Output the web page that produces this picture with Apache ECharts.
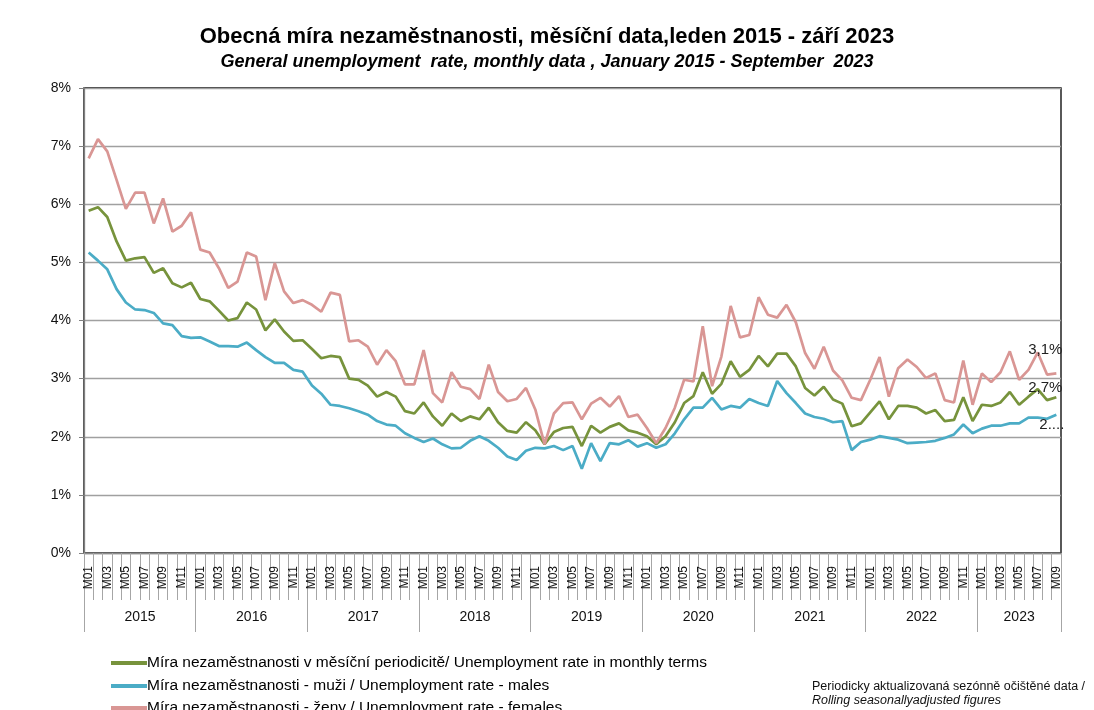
<!DOCTYPE html>
<html>
<head>
<meta charset="utf-8">
<script src="https://cdn.jsdelivr.net/npm/echarts@6/dist/echarts.min.js"></script>
<style>
  html, body { margin: 0; padding: 0; background: #fff; }
  #main { width: 1094px; height: 710px; }
</style>
</head>
<body>
<div id="main"></div>
<script>
// roky a měsíce na ose x
var years = ['2015', '2016', '2017', '2018', '2019', '2020', '2021', '2022', '2023'];
var months = ['M01', 'M02', 'M03', 'M04', 'M05', 'M06', 'M07', 'M08', 'M09', 'M10', 'M11', 'M12'];
var monthsIn2023 = 9;

// obecná míra nezaměstnanosti (%), leden 2015 - září 2023
var total = [
  5.89, 5.95, 5.78, 5.36, 5.03, 5.07, 5.09, 4.82, 4.90, 4.64, 4.57, 4.65,
  4.37, 4.33, 4.17, 4.00, 4.04, 4.31, 4.19, 3.83, 4.02, 3.81, 3.65, 3.66,
  3.51, 3.35, 3.39, 3.37, 3.00, 2.98, 2.88, 2.69, 2.77, 2.69, 2.44, 2.40,
  2.59, 2.35, 2.19, 2.40, 2.27, 2.35, 2.30, 2.50, 2.25, 2.10, 2.07, 2.25,
  2.11, 1.87, 2.08, 2.15, 2.17, 1.84, 2.19, 2.07, 2.17, 2.23, 2.11, 2.07,
  2.01, 1.87, 2.01, 2.25, 2.58, 2.70, 3.11, 2.74, 2.91, 3.30, 3.03, 3.15,
  3.39, 3.21, 3.43, 3.43, 3.21, 2.84, 2.71, 2.86, 2.64, 2.57, 2.18, 2.23,
  2.42, 2.61, 2.30, 2.53, 2.53, 2.50, 2.40, 2.46, 2.27, 2.29, 2.68, 2.27,
  2.55, 2.53, 2.59, 2.77, 2.55, 2.69, 2.82, 2.63, 2.68
];
var males = [
  5.17, 5.03, 4.88, 4.54, 4.31, 4.19, 4.18, 4.13, 3.95, 3.92, 3.73, 3.70,
  3.71, 3.64, 3.56, 3.56, 3.55, 3.62, 3.49, 3.37, 3.27, 3.27, 3.15, 3.12,
  2.88, 2.74, 2.55, 2.53, 2.49, 2.44, 2.38, 2.27, 2.21, 2.19, 2.06, 1.98,
  1.91, 1.97, 1.87, 1.80, 1.81, 1.93, 2.01, 1.93, 1.81, 1.66, 1.60, 1.76,
  1.81, 1.80, 1.84, 1.77, 1.84, 1.45, 1.89, 1.58, 1.89, 1.87, 1.94, 1.83,
  1.89, 1.81, 1.87, 2.06, 2.30, 2.50, 2.50, 2.67, 2.47, 2.53, 2.50, 2.65,
  2.58, 2.53, 2.96, 2.75, 2.58, 2.40, 2.34, 2.31, 2.25, 2.27, 1.77, 1.91,
  1.95, 2.01, 1.98, 1.95, 1.89, 1.90, 1.91, 1.93, 1.98, 2.04, 2.21, 2.06,
  2.14, 2.19, 2.19, 2.23, 2.23, 2.33, 2.33, 2.31, 2.38
];
var females = [
  6.79, 7.12, 6.91, 6.42, 5.92, 6.20, 6.20, 5.67, 6.10, 5.53, 5.63, 5.86,
  5.22, 5.17, 4.90, 4.56, 4.67, 5.17, 5.10, 4.35, 4.99, 4.50, 4.30, 4.35,
  4.27, 4.15, 4.48, 4.44, 3.64, 3.66, 3.55, 3.24, 3.49, 3.30, 2.90, 2.90,
  3.49, 2.75, 2.59, 3.11, 2.86, 2.82, 2.65, 3.24, 2.77, 2.61, 2.65, 2.84,
  2.47, 1.87, 2.40, 2.58, 2.59, 2.30, 2.57, 2.67, 2.52, 2.70, 2.34, 2.38,
  2.15, 1.89, 2.15, 2.50, 2.98, 2.95, 3.90, 2.87, 3.38, 4.25, 3.71, 3.75,
  4.40, 4.10, 4.05, 4.27, 3.97, 3.44, 3.17, 3.55, 3.14, 2.97, 2.67, 2.63,
  2.98, 3.37, 2.69, 3.18, 3.33, 3.20, 3.01, 3.09, 2.63, 2.59, 3.31, 2.55,
  3.09, 2.94, 3.11, 3.47, 2.98, 3.15, 3.45, 3.07, 3.09
];
var yTicks = [0, 1, 2, 3, 4, 5, 6, 7, 8];

var names = [
  'Míra nezaměstnanosti v měsíční periodicitě/ Unemployment rate in monthly terms',
  'Míra nezaměstnanosti - muži / Unemployment rate - males',
  'Míra nezaměstnanosti - ženy / Unemployment rate - females'
];
var colors = ['#77933c', '#4bacc6', '#d99694'];
var endTexts = ['2,7%', '2....', '3,1%'];

var cats = [], catYear = [];
years.forEach(function (y, yi) {
  var n = yi === years.length - 1 ? monthsIn2023 : 12;
  for (var m = 0; m < n; m++) { cats.push(months[m]); catYear.push(y); }
});

// index kategorie, kde stojí popisek roku
var yearLabelAt = {};
years.forEach(function (y, yi) {
  var start = yi * 12;
  var n = yi === years.length - 1 ? monthsIn2023 : 12;
  yearLabelAt[start + Math.floor(n / 2)] = (n % 2 === 0) ? 'e' : 'o';
});

var font = 'Liberation Sans, Arial, sans-serif';
var myChart = echarts.init(document.getElementById('main'));

var seriesData = [total, males, females];
var series = seriesData.map(function (d, i) {
  return {
    name: names[i],
    type: 'line',
    data: d,
    xAxisIndex: 0,
    symbol: 'none',
    z: 3 + i,
    lineStyle: { color: colors[i], width: 2.7 },
    itemStyle: { color: colors[i] },
    endLabel: {
      show: true,
      formatter: endTexts[i],
      color: '#222',
      fontFamily: font,
      fontSize: 15,
      align: 'right',
      verticalAlign: 'middle',
      distance: 0,
      offset: [[6, -9], [8, 10], [6, -24]][i]
    }
  };
});

var legends = names.map(function (n, i) {
  return {
    data: [n],
    left: 106,
    top: [650, 673, 695][i],
    itemWidth: 36,
    itemHeight: 4,
    icon: 'rect',
    textStyle: { fontFamily: font, fontSize: 15.5, color: '#000', padding: [0, 0, 0, -5] }
  };
});

var option = {
  backgroundColor: '#fff',
  animation: false,
  title: {
    text: 'Obecná míra nezaměstnanosti, měsíční data,leden 2015 - září 2023',
    subtext: 'General unemployment  rate, monthly data , January 2015 - September  2023',
    left: 'center',
    top: 21,
    itemGap: 5,
    textStyle: { fontFamily: font, fontSize: 22, fontWeight: 'bold', color: '#000' },
    subtextStyle: { fontFamily: font, fontSize: 18, fontWeight: 'bold', fontStyle: 'italic', color: '#000' }
  },
  legend: legends,
  grid: {
    left: 84, right: 33, top: 88, bottom: 157,
    show: true, borderColor: '#000', borderWidth: 1.3
  },
  xAxis: [{
    type: 'category',
    data: cats,
    boundaryGap: true,
    axisLine: { lineStyle: { color: '#8c8c8c', width: 1.3 } },
    axisTick: { show: true, interval: 0, length: 47, lineStyle: { color: '#a6a6a6' } },
    axisLabel: {
      interval: 1, rotate: 90, margin: 13,
      fontFamily: font, fontSize: 12, color: '#111'
    },
    splitLine: { show: false }
  }, {
    // hranice let (dlouhé čárky)
    type: 'value',
    position: 'bottom',
    min: 0,
    max: cats.length,
    interval: 12,
    axisLine: { show: false },
    axisTick: { show: true, length: 79, lineStyle: { color: '#a6a6a6' } },
    axisLabel: { show: false },
    splitLine: { show: false }
  }, {
    // popisky let
    type: 'category',
    data: catYear,
    position: 'bottom',
    boundaryGap: true,
    axisLine: { show: false },
    axisTick: { show: false },
    axisLabel: {
      margin: 57,
      interval: function (i) { return yearLabelAt[i] !== undefined; },
      formatter: function (v, i) { return yearLabelAt[i] === 'e' ? '{e|' + v + '}' : v; },
      rich: { e: { padding: [0, 9, 0, 0], fontFamily: font, fontSize: 14, color: '#111' } },
      fontFamily: font, fontSize: 14, color: '#111'
    }
  }],
  yAxis: {
    type: 'value',
    min: yTicks[0],
    max: yTicks[yTicks.length - 1],
    interval: 1,
    axisLine: { show: true, lineStyle: { color: '#808080', width: 1.3 } },
    axisTick: { show: true, length: 5, lineStyle: { color: '#808080' } },
    axisLabel: {
      formatter: '{value}%', margin: 13,
      fontFamily: font, fontSize: 14, color: '#111'
    },
    splitLine: { lineStyle: { color: '#a0a0a0', width: 1.3 } }
  },
  graphic: [{
    type: 'text', left: 812, top: 680,
    style: { text: 'Periodicky aktualizovaná sezónně očištěné data /', font: '12.5px ' + font, fill: '#111' }
  }, {
    type: 'text', left: 812, top: 694,
    style: { text: 'Rolling seasonallyadjusted figures', font: 'italic 12.5px ' + font, fill: '#111' }
  }],
  series: series
};

myChart.setOption(option);
</script>
</body>
</html>
